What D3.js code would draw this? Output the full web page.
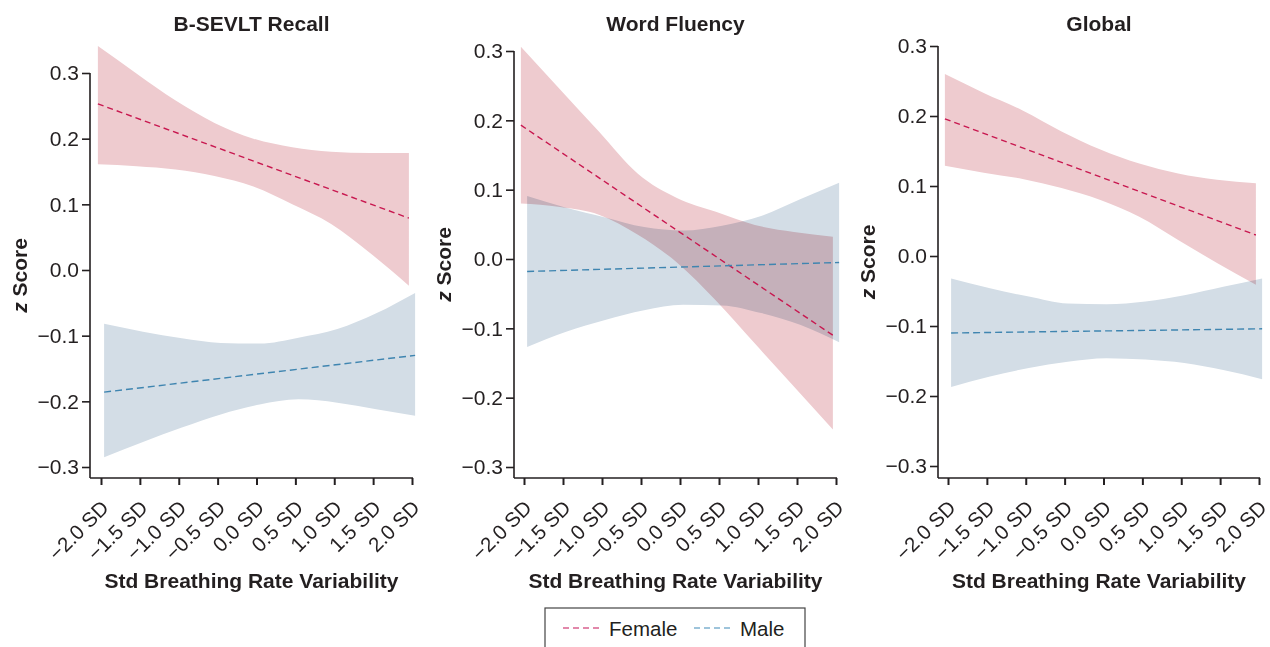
<!DOCTYPE html>
<html>
<head>
<meta charset="utf-8">
<script src="https://cdn.jsdelivr.net/npm/d3@7"></script>
<style>
  html, body { margin: 0; padding: 0; background: #ffffff; }
  svg { display: block; }
  text { font-family: "Liberation Sans", Arial, Helvetica, sans-serif; fill: #231f20; }
</style>
</head>
<body>
<svg id="chart" width="1270" height="647"></svg>
<script>
// ---------------- data ----------------
const panelTitles = ["B-SEVLT Recall", "Word Fluency", "Global"];
const xValues = [-2, -1.5, -1, -0.5, 0, 0.5, 1, 1.5, 2];
const xTickLabels = ["\u22122.0 SD", "\u22121.5 SD", "\u22121.0 SD", "\u22120.5 SD", "0.0 SD", "0.5 SD", "1.0 SD", "1.5 SD", "2.0 SD"];
const yTicks = [-0.3, -0.2, -0.1, 0.0, 0.1, 0.2, 0.3];
const yTickLabels = ["\u22120.3", "\u22120.2", "\u22120.1", "0.0", "0.1", "0.2", "0.3"];
const xAxisTitle = "Std Breathing Rate Variability";
const seriesNames = ["Female", "Male"];

// fitted line end values (at -2 SD and +2 SD)
const lineEnds = [-2, 2];
const femaleFit = [[0.253, 0.079], [0.193, -0.110], [0.196, 0.030]];
const maleFit   = [[-0.186, -0.130], [-0.018, -0.005], [-0.110, -0.104]];

// confidence bands at each SD value
const femaleUpper = [
  [0.341, 0.299, 0.258, 0.224, 0.200, 0.187, 0.180, 0.178, 0.178],
  [0.306, 0.245, 0.184, 0.123, 0.088, 0.068, 0.049, 0.039, 0.032],
  [0.260, 0.233, 0.208, 0.178, 0.152, 0.132, 0.118, 0.109, 0.104]
];
const femaleLower = [
  [0.161, 0.158, 0.153, 0.143, 0.127, 0.100, 0.070, 0.026, -0.024],
  [0.080, 0.075, 0.064, 0.035, -0.005, -0.060, -0.122, -0.184, -0.246],
  [0.129, 0.119, 0.110, 0.097, 0.080, 0.056, 0.023, -0.010, -0.041]
];
const maleUpper = [
  [-0.082, -0.094, -0.104, -0.111, -0.112, -0.103, -0.090, -0.066, -0.035],
  [0.091, 0.074, 0.060, 0.046, 0.041, 0.048, 0.062, 0.086, 0.110],
  [-0.032, -0.046, -0.058, -0.068, -0.069, -0.065, -0.056, -0.044, -0.032]
];
const maleLower = [
  [-0.285, -0.262, -0.240, -0.220, -0.205, -0.197, -0.202, -0.212, -0.222],
  [-0.127, -0.105, -0.088, -0.074, -0.066, -0.067, -0.078, -0.095, -0.120],
  [-0.187, -0.172, -0.160, -0.151, -0.146, -0.148, -0.153, -0.163, -0.176]
];

// ---------------- layout / style ----------------
const layout = [
  { axisX: 90,  xr: [101, 412], xEnd: 413,  yr: [467, 73] },
  { axisX: 514, xr: [524, 836], xEnd: 837,  yr: [467, 51] },
  { axisX: 938, xr: [948, 1259], xEnd: 1260, yr: [466, 46] }
];
const axisBottom = 478;
const dodge = 0.04;
const ink = "#231f20";
const colors = {
  femaleBand: "#eecbcf", maleBand: "#d3dde6",
  femaleLine: "#c8174f", maleLine: "#3f85b0",
  femaleLegend: "#d9628f", maleLegend: "#7fb1cf"
};

const svg = d3.select("#chart");

layout.forEach((L, i) => {
  const x = d3.scaleLinear().domain([-2, 2]).range(L.xr);
  const y = d3.scaleLinear().domain([-0.3, 0.3]).range(L.yr);
  const g = svg.append("g");

  const bands = [
    { up: femaleUpper[i], lo: femaleLower[i], off: -dodge, fill: colors.femaleBand },
    { up: maleUpper[i], lo: maleLower[i], off: dodge, fill: colors.maleBand }
  ];
  bands.forEach(b => {
    const area = d3.area()
      .x((d, j) => x(xValues[j] + b.off))
      .y0((d, j) => y(b.lo[j]))
      .y1((d, j) => y(b.up[j]))
      .curve(d3.curveMonotoneX);
    g.append("path")
      .attr("d", area(xValues))
      .attr("fill", b.fill)
      .style("mix-blend-mode", "multiply");
  });

  const lines = [
    { v: femaleFit[i], off: -dodge, color: colors.femaleLine, dash: "6,4" },
    { v: maleFit[i], off: dodge, color: colors.maleLine, dash: "7,4" }
  ];
  lines.forEach(l => {
    const line = d3.line()
      .x((d, j) => x(lineEnds[j] + l.off))
      .y((d, j) => y(l.v[j]));
    g.append("path")
      .attr("d", line(lineEnds))
      .attr("fill", "none")
      .attr("stroke", l.color)
      .attr("stroke-width", 1.4)
      .attr("stroke-dasharray", l.dash);
  });

  // y axis
  const yAxis = d3.axisLeft(y).tickValues(yTicks)
    .tickFormat((d, j) => yTickLabels[j]).tickSize(8).tickPadding(3);
  const ya = g.append("g").attr("transform", `translate(${L.axisX},0)`).call(yAxis);
  ya.select(".domain").remove();
  ya.append("line").attr("x1", 0).attr("x2", 0)
    .attr("y1", y(0.3)).attr("y2", axisBottom)
    .attr("stroke", ink).attr("stroke-width", 1.6);
  ya.selectAll(".tick line").attr("stroke", ink).attr("stroke-width", 1.6);
  ya.selectAll(".tick text")
    .style("font-size", "21px")
    .style("font-family", "'Liberation Sans', Arial, sans-serif")
    .attr("fill", ink);

  // x axis
  const xa = g.append("g").attr("transform", `translate(0,${axisBottom})`);
  xa.append("line").attr("x1", L.axisX).attr("x2", L.xEnd)
    .attr("y1", 0).attr("y2", 0)
    .attr("stroke", ink).attr("stroke-width", 1.6);
  const xAxis = d3.axisBottom(x).tickValues(xValues).tickSize(7).tickFormat("");
  const xt = xa.append("g").call(xAxis);
  xt.select(".domain").remove();
  xt.selectAll(".tick line").attr("stroke", ink).attr("stroke-width", 2);
  xa.selectAll("text.xlab")
    .data(xValues)
    .join("text")
    .attr("class", "xlab")
    .attr("text-anchor", "end")
    .attr("transform", d => `translate(${x(d) + 9},31) rotate(-45)`)
    .style("font-size", "20.5px")
    .text((d, j) => xTickLabels[j]);

  // titles
  const cx = (L.axisX + L.xEnd) / 2;
  g.append("text")
    .attr("x", cx).attr("y", 31)
    .attr("text-anchor", "middle")
    .style("font-size", "21px").style("font-weight", "bold")
    .text(panelTitles[i]);
  g.append("text")
    .attr("x", cx).attr("y", 588)
    .attr("text-anchor", "middle")
    .style("font-size", "21px").style("font-weight", "bold")
    .text(xAxisTitle);

  const yl = g.append("text")
    .attr("text-anchor", "middle")
    .attr("transform", `translate(${L.axisX - 63},${(y(0.3) + axisBottom) / 2}) rotate(-90)`)
    .style("font-size", "21px").style("font-weight", "bold");
  yl.append("tspan").style("font-style", "italic").text("z");
  yl.append("tspan").text(" Score");
});

// legend
const lg = svg.append("g");
lg.append("rect")
  .attr("x", 545).attr("y", 608).attr("width", 260).attr("height", 60)
  .attr("fill", "#ffffff").attr("stroke", "#444").attr("stroke-width", 1.2);
const legendItems = [
  { name: seriesNames[0], color: colors.femaleLegend, x: 563 },
  { name: seriesNames[1], color: colors.maleLegend, x: 694 }
];
legendItems.forEach(it => {
  lg.append("line")
    .attr("x1", it.x).attr("x2", it.x + 39)
    .attr("y1", 628).attr("y2", 628)
    .attr("stroke", it.color).attr("stroke-width", 1.6)
    .attr("stroke-dasharray", "6,4");
  lg.append("text")
    .attr("x", it.x + 46).attr("y", 636)
    .style("font-size", "20.5px")
    .text(it.name);
});
</script>
</body>
</html>
